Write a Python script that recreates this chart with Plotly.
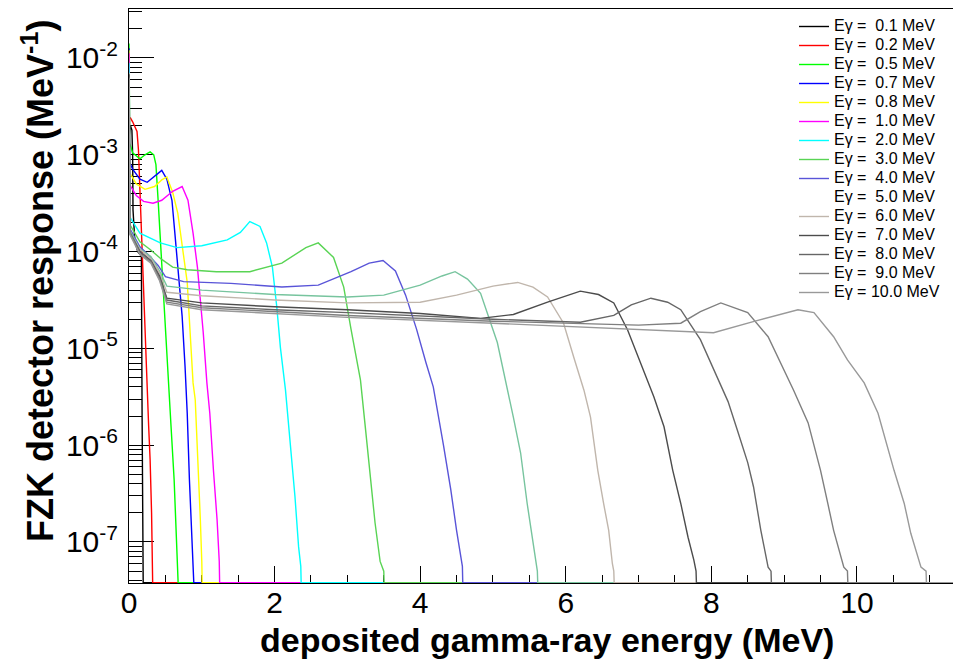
import plotly.graph_objects as go

# ---------------------------------------------------------------------------
# Detector response functions, one per incident gamma-ray energy (MeV).
# E_xx: deposited energy (MeV), R_xx: response (MeV^-1)
# ---------------------------------------------------------------------------
E_01 = [0.0, 0.02, 0.04, 0.05, 0.055, 0.08, 0.12, 0.17, 0.18, 0.19]
R_01 = [1.5e-3, 2.0e-3, 1.8e-3, 1.0e-3, 2.7e-4, 1.3e-4, 1.0e-4, 9e-5, 2e-6, 4e-7]

E_02 = [0.0, 0.02, 0.05, 0.08, 0.11, 0.13, 0.15, 0.17, 0.20, 0.24, 0.27, 0.29, 0.31, 0.32]
R_02 = [2.4e-3, 2.4e-3, 2.19e-3, 1.95e-3, 1.74e-3, 1.12e-3, 3.98e-4, 1.55e-4, 3.16e-5,
        6.31e-6, 1.58e-6, 7.08e-7, 2.0e-7, 6.31e-8]

E_05 = [0.0, 0.01, 0.05, 0.15, 0.22, 0.29, 0.34, 0.37, 0.40, 0.45, 0.50, 0.54, 0.58,
        0.62, 0.65, 0.67]
R_05 = [1.41e-2, 1.32e-3, 1.05e-3, 9.1e-4, 1.0e-3, 1.07e-3, 1.0e-3, 7.9e-4, 3.39e-4,
        6.9e-5, 1.45e-5, 4.7e-6, 1.45e-6, 4.4e-7, 1.32e-7, 6.3e-8]

E_07 = [0.0, 0.01, 0.05, 0.15, 0.25, 0.35, 0.45, 0.52, 0.59, 0.63, 0.67, 0.73, 0.77,
        0.80, 0.83, 0.86, 0.885]
R_07 = [1.26e-2, 8.3e-4, 7.1e-4, 5.6e-4, 5.2e-4, 6.0e-4, 6.9e-4, 5.6e-4, 3.39e-4,
        1.55e-4, 6.9e-5, 2.14e-5, 6.5e-6, 2.14e-6, 4.4e-7, 1.32e-7, 6.3e-8]

E_08 = [0.0, 0.01, 0.10, 0.22, 0.35, 0.45, 0.52, 0.60, 0.67, 0.74, 0.80, 0.84, 0.88,
        0.91, 0.95, 0.98, 1.0]
R_08 = [1.2e-2, 6.5e-4, 5.0e-4, 4.4e-4, 4.7e-4, 5.5e-4, 5.9e-4, 4.1e-4, 2.5e-4,
        1.05e-4, 4.8e-5, 1.45e-5, 4.4e-6, 2.95e-6, 6.6e-7, 1.7e-7, 6.3e-8]

E_10 = [0.0, 0.01, 0.10, 0.20, 0.33, 0.45, 0.60, 0.73, 0.81, 0.88, 0.94, 0.98, 1.02,
        1.07, 1.11, 1.16, 1.21, 1.24]
R_10 = [1.12e-2, 4.9e-4, 3.8e-4, 3.3e-4, 3.16e-4, 3.39e-4, 4.2e-4, 4.7e-4, 3.39e-4,
        1.55e-4, 6.9e-5, 3.16e-5, 1.45e-5, 4.4e-6, 2.14e-6, 5.5e-7, 1.7e-7, 6.3e-8]

E_20 = [0.0, 0.01, 0.15, 0.43, 0.66, 1.0, 1.35, 1.53, 1.66, 1.80, 1.89, 1.97, 2.03,
        2.08, 2.15, 2.22, 2.28, 2.33, 2.36]
R_20 = [8.9e-3, 2.29e-4, 1.55e-4, 1.23e-4, 1.10e-4, 1.15e-4, 1.32e-4, 1.58e-4, 2.04e-4,
        1.82e-4, 1.23e-4, 6.9e-5, 2.69e-5, 1.02e-5, 3.7e-6, 9.5e-7, 2.95e-7, 8.9e-8, 5.6e-8]

E_30 = [0.0, 0.01, 0.15, 0.29, 0.45, 0.60, 0.80, 1.2, 1.66, 2.1, 2.43, 2.6, 2.81, 2.95,
        3.05, 3.18, 3.25, 3.32, 3.38, 3.45, 3.5]
R_30 = [6.3e-3, 1.91e-4, 1.26e-4, 1.05e-4, 8.3e-5, 6.9e-5, 6.5e-5, 6.2e-5, 6.2e-5,
        7.6e-5, 1.10e-4, 1.23e-4, 8.7e-5, 4.3e-5, 1.58e-5, 4.7e-6, 1.45e-6, 4.4e-7,
        1.58e-7, 6.3e-8, 5.0e-8]

E_40 = [0.0, 0.01, 0.15, 0.25, 0.40, 0.50, 0.75, 1.4, 2.1, 2.6, 3.05, 3.3, 3.49, 3.66,
        3.8, 3.95, 4.08, 4.18, 4.32, 4.42, 4.5, 4.58]
R_40 = [5.6e-3, 1.74e-4, 1.12e-4, 9.5e-5, 7.2e-5, 5.5e-5, 4.9e-5, 4.7e-5, 4.3e-5,
        4.5e-5, 6.2e-5, 7.6e-5, 8.1e-5, 6.3e-5, 3.55e-5, 1.58e-5, 7.1e-6, 4.0e-6,
        1.0e-6, 3.5e-7, 1.32e-7, 5.6e-8]

E_50 = [0.0, 0.01, 0.15, 0.30, 0.42, 0.52, 1.0, 2.0, 3.0, 3.5, 4.0, 4.3, 4.48, 4.65,
        4.83, 5.06, 5.28, 5.38, 5.47, 5.54, 5.61]
R_50 = [7.0e-3, 1.66e-4, 1.07e-4, 8.9e-5, 6.3e-5, 4.4e-5, 4.0e-5, 3.6e-5, 3.4e-5,
        3.55e-5, 4.5e-5, 5.6e-5, 6.2e-5, 5.2e-5, 3.7e-5, 1.15e-5, 1.95e-6, 8.3e-7,
        2.5e-7, 1.12e-7, 5.0e-8]

E_60 = [0.0, 0.01, 0.15, 0.30, 0.42, 0.52, 1.0, 2.0, 3.0, 4.0, 4.5, 5.0, 5.34, 5.55,
        5.75, 5.97, 6.11, 6.25, 6.34, 6.44, 6.52, 6.59, 6.64, 6.66]
R_60 = [7.0e-3, 1.58e-4, 1.05e-4, 8.5e-5, 6.0e-5, 3.8e-5, 3.5e-5, 3.16e-5, 2.95e-5,
        3.0e-5, 3.55e-5, 4.4e-5, 4.8e-5, 4.3e-5, 3.4e-5, 1.82e-5, 8.1e-6, 3.7e-6,
        1.95e-6, 5.5e-7, 2.5e-7, 1.32e-7, 6.0e-8, 5.0e-8]

E_70 = [0.0, 0.01, 0.15, 0.30, 0.42, 0.52, 1.0, 2.0, 3.0, 4.0, 4.83, 5.28, 5.75, 6.2,
        6.45, 6.66, 6.85, 7.03, 7.21, 7.35, 7.47, 7.58, 7.68, 7.76, 7.79]
R_70 = [6.8e-3, 1.58e-4, 1.0e-4, 8.1e-5, 5.6e-5, 3.3e-5, 2.95e-5, 2.69e-5, 2.51e-5,
        2.29e-5, 2.04e-5, 2.24e-5, 3.0e-5, 3.9e-5, 3.6e-5, 2.95e-5, 1.55e-5, 7.1e-6,
        3.16e-6, 1.55e-6, 5.5e-7, 2.5e-7, 1.12e-7, 6.5e-8, 5.0e-8]

E_80 = [0.0, 0.01, 0.15, 0.30, 0.42, 0.52, 1.0, 2.0, 3.0, 5.0, 6.2, 6.66, 6.9, 7.17,
        7.4, 7.58, 7.85, 8.03, 8.23, 8.36, 8.5, 8.58, 8.68, 8.78, 8.82]
R_80 = [6.6e-3, 1.58e-4, 1.0e-4, 7.9e-5, 5.4e-5, 3.16e-5, 2.75e-5, 2.51e-5, 2.34e-5,
        2.0e-5, 1.86e-5, 2.19e-5, 2.82e-5, 3.3e-5, 3.0e-5, 2.51e-5, 1.23e-5, 6.0e-6,
        2.82e-6, 1.41e-6, 6.6e-7, 3.7e-7, 1.32e-7, 5.5e-8, 5.0e-8]

E_90 = [0.0, 0.01, 0.15, 0.30, 0.42, 0.52, 1.0, 2.0, 3.0, 5.0, 7.0, 7.58, 7.85, 8.13,
        8.5, 8.78, 8.95, 9.13, 9.33, 9.5, 9.6, 9.68, 9.82, 9.87]
R_90 = [6.4e-3, 1.58e-4, 9.5e-5, 7.8e-5, 5.2e-5, 3.0e-5, 2.63e-5, 2.4e-5, 2.19e-5,
        1.91e-5, 1.74e-5, 1.82e-5, 2.4e-5, 2.95e-5, 2.34e-5, 1.32e-5, 7.1e-6, 3.7e-6,
        1.7e-6, 5.5e-7, 2.5e-7, 1.32e-7, 5.5e-8, 5.0e-8]

E_100 = [0.0, 0.01, 0.15, 0.30, 0.42, 0.52, 1.0, 2.0, 3.0, 5.0, 7.12, 8.03, 8.6, 9.19,
         9.41, 9.68, 9.87, 10.1, 10.29, 10.51, 10.65, 10.74, 10.88, 10.95]
R_100 = [6.2e-3, 1.51e-4, 9.3e-5, 7.6e-5, 5.0e-5, 2.88e-5, 2.51e-5, 2.29e-5, 2.09e-5,
         1.82e-5, 1.55e-5, 1.45e-5, 1.91e-5, 2.51e-5, 2.34e-5, 1.32e-5, 7.6e-6, 4.4e-6,
         2.14e-6, 5.5e-7, 2.5e-7, 1.23e-7, 5.5e-8, 5.0e-8]

GAMMA_ENERGIES = ["0.1", "0.2", "0.5", "0.7", "0.8", "1.0", "2.0", "3.0", "4.0",
                  "5.0", "6.0", "7.0", "8.0", "9.0", "10.0"]
SERIES_E = [E_01, E_02, E_05, E_07, E_08, E_10, E_20, E_30, E_40, E_50, E_60, E_70,
            E_80, E_90, E_100]
SERIES_R = [R_01, R_02, R_05, R_07, R_08, R_10, R_20, R_30, R_40, R_50, R_60, R_70,
            R_80, R_90, R_100]
LINE_COLORS = ["#000000", "#ff0000", "#00ff00", "#0000ff", "#ffff00", "#ff00ff",
               "#00ffff", "#59d454", "#5954d8", "#77c49e", "#c0b6ac", "#4c4c4c",
               "#666666", "#7f7f7f", "#999999"]
# the 5.0 MeV legend key is drawn in white
LEGEND_COLORS = LINE_COLORS[:9] + ["#ffffff"] + LINE_COLORS[10:]

X_TICKS = [0, 2, 4, 6, 8, 10]
X_TICK_TEXT = ["0", "2", "4", "6", "8", "10"]
Y_DECADES = [-7, -6, -5, -4, -3, -2]
Y_TICK_TEXT = ["10<sup>-7</sup>", "10<sup>-6</sup>", "10<sup>-5</sup>",
               "10<sup>-4</sup>", "10<sup>-3</sup>", "10<sup>-2</sup>"]

X_MAX = 11.32
LOG_Y_MIN, LOG_Y_MAX = -7.4236, -1.494
# empty bins are drawn along the bottom of the frame
FLOOR = 10 ** (LOG_Y_MIN + 0.004)

FONT = "Liberation Sans, Arial, Helvetica, sans-serif"

fig = go.Figure()
for name, xs, ys, col, lcol in zip(GAMMA_ENERGIES, SERIES_E, SERIES_R, LINE_COLORS,
                                   LEGEND_COLORS):
    x_full = list(xs) + [xs[-1] + 0.005, X_MAX]
    y_full = list(ys) + [FLOOR, FLOOR]
    pad = "\u00a0\u00a0" if len(name) == 3 else "\u00a0"
    label = f"<span style='font-size:16px'>E\u03b3 ={pad}{name} MeV</span>"
    fig.add_trace(go.Scatter(
        x=x_full, y=y_full, mode="lines",
        line=dict(color=col, width=1.4),
        name=label, showlegend=(lcol == col), hoverinfo="skip"))
    if lcol != col:
        fig.add_trace(go.Scatter(
            x=[None], y=[None], mode="lines",
            line=dict(color=lcol, width=1.4), name=label, showlegend=True))

y_minor = [m * 10.0 ** d for d in range(-8, -1) for m in range(2, 10)]

fig.update_layout(
    width=953, height=667,
    margin=dict(l=129, r=0, t=9, b=84),
    paper_bgcolor="white", plot_bgcolor="white",
    font=dict(family=FONT, color="black"),
    showlegend=True,
    legend=dict(
        x=(794 - 129) / 824, y=(583 - 12) / 574, xanchor="left", yanchor="top",
        bgcolor="rgba(255,255,255,0)", borderwidth=0,
        font=dict(family=FONT, size=12, color="black"),
    ),
    xaxis=dict(
        range=[0, X_MAX], showgrid=False, zeroline=False,
        showline=True, linecolor="black", linewidth=1, mirror=True,
        ticks="inside", ticklen=17, tickwidth=1, tickcolor="black",
        tickmode="array", tickvals=X_TICKS, ticktext=X_TICK_TEXT,
        tickfont=dict(family=FONT, size=30, color="black"),
        ticklabelstandoff=-7,
        minor=dict(ticks="inside", ticklen=8, tickwidth=1, tickcolor="black",
                   dtick=0.5, showgrid=False),
        layer="below traces",
    ),
    yaxis=dict(
        type="log", range=[LOG_Y_MIN, LOG_Y_MAX], showgrid=False, zeroline=False,
        showline=True, linecolor="black", linewidth=1, mirror=False,
        ticks="inside", ticklen=25, tickwidth=1, tickcolor="black",
        tickmode="array", tickvals=[10.0 ** d for d in Y_DECADES],
        ticktext=Y_TICK_TEXT,
        tickfont=dict(family=FONT, size=30, color="black"),
        ticklabelstandoff=4,
        minor=dict(ticks="inside", ticklen=13, tickwidth=1, tickcolor="black",
                   tickmode="array", tickvals=y_minor, showgrid=False),
        layer="below traces",
    ),
    annotations=[
        dict(text="deposited gamma-ray energy (MeV)",
             xref="paper", yref="paper", x=(547 - 129) / 824, y=(583 - 640) / 574,
             xanchor="center", yanchor="middle", showarrow=False,
             font=dict(family=FONT, size=34, color="black", weight="bold")),
        dict(text="FZK detector response (MeV<sup>-1</sup>)",
             xref="paper", yref="paper", x=(38 - 129) / 824, y=(583 - 281) / 574,
             xanchor="center", yanchor="middle", showarrow=False, textangle=-90,
             font=dict(family=FONT, size=36, color="black", weight="bold")),
    ],
)

fig.write_html("out.html")
